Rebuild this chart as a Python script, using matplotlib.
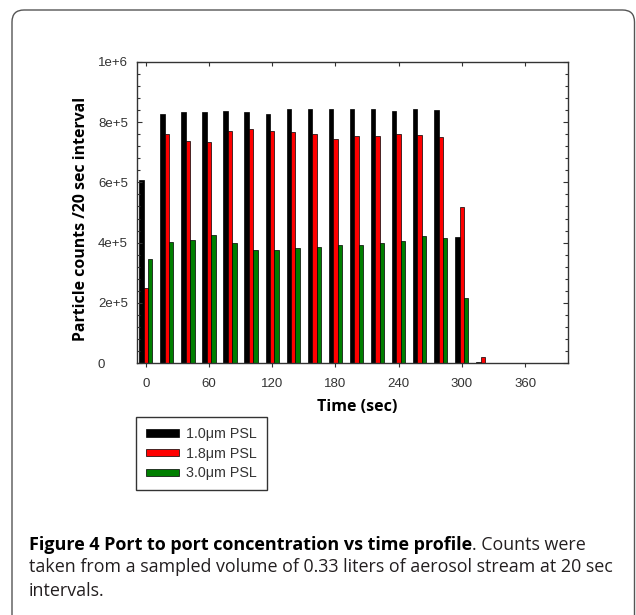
import matplotlib
matplotlib.use("Agg")
import matplotlib.pyplot as plt
import numpy as np
from matplotlib.patches import FancyBboxPatch
from matplotlib.transforms import IdentityTransform
from matplotlib.ticker import MultipleLocator

# ---------------- data ----------------
time_sec = [0, 20, 40, 60, 80, 100, 120, 140, 160, 180, 200, 220, 240, 260, 280, 300, 320]
psl_1_0 = [6.08e5, 8.26e5, 8.33e5, 8.33e5, 8.37e5, 8.33e5, 8.27e5, 8.44e5, 8.44e5,
           8.43e5, 8.44e5, 8.44e5, 8.38e5, 8.43e5, 8.40e5, 4.18e5, 3e3]
psl_1_8 = [2.50e5, 7.60e5, 7.38e5, 7.33e5, 7.72e5, 7.77e5, 7.71e5, 7.67e5, 7.62e5,
           7.44e5, 7.54e5, 7.54e5, 7.60e5, 7.56e5, 7.50e5, 5.18e5, 2.0e4]
psl_3_0 = [3.44e5, 4.01e5, 4.10e5, 4.24e5, 3.98e5, 3.74e5, 3.74e5, 3.81e5, 3.84e5,
           3.92e5, 3.93e5, 3.98e5, 4.04e5, 4.22e5, 4.16e5, 2.15e5, 0]
series_labels = ["1.0\u03bcm PSL", "1.8\u03bcm PSL", "3.0\u03bcm PSL"]
series_colors = ["#000000", "#ff0000", "#007f00"]
yticks = [0, 2e5, 4e5, 6e5, 8e5, 1e6]
ytick_labels = ["0", "2e+5", "4e+5", "6e+5", "8e+5", "1e+6"]
xticks = [0, 60, 120, 180, 240, 300, 360]

W, H = 636, 615
fig = plt.figure(figsize=(W / 100, H / 100), dpi=100)
fig.patch.set_facecolor("white")

# rounded border
border = FancyBboxPatch((12, -40), 622.5, 615 - 10 + 40, boxstyle="round,pad=0,rounding_size=12",
                        transform=IdentityTransform(), facecolor="none",
                        edgecolor="#555555", linewidth=1.0)
fig.add_artist(border)

ax_l, ax_r, ax_t, ax_b = 137, 568, 62, 363
ax = fig.add_axes([ax_l / W, 1 - ax_b / H, (ax_r - ax_l) / W, (ax_b - ax_t) / H])

bw = 4.2
t = np.array(time_sec, dtype=float)
handles = []
for vals, off, col, lab in zip([psl_1_0, psl_1_8, psl_3_0], [-bw, 0, bw], series_colors, series_labels):
    b = ax.bar(t + off, vals, width=bw, color=col, edgecolor="black", linewidth=0.5, label=lab)
    handles.append(b)

ax.set_xlim(-8.3, 400.8)
ax.set_ylim(0, 1e6)

tick_font = dict(family="Liberation Sans", size=9.5)
ax.set_xticks(xticks)
ax.set_xticklabels([str(v) for v in xticks], fontdict=tick_font, color="#333333")
ax.set_yticks(yticks)
ax.set_yticklabels(ytick_labels, fontdict=tick_font, color="#333333", ha="left")
ax.yaxis.set_minor_locator(MultipleLocator(4e4))

ax.tick_params(axis="y", which="major", direction="in", length=3.5, width=0.8,
               left=True, right=True, pad=(ax_l - 98) * 0.72, colors="#333333")
ax.tick_params(axis="y", which="minor", direction="in", length=2.3, width=0.8,
               left=True, right=True, colors="#333333")
ax.tick_params(axis="x", which="major", direction="out", length=3, width=0.8,
               bottom=True, top=False, pad=7.5, colors="#333333")
for lab in ax.get_yticklabels():
    lab.set_color("#333333")

sec = ax.secondary_xaxis("top")
sec.set_xticks(xticks)
sec.tick_params(axis="x", direction="in", length=3, width=0.8, labeltop=False, colors="#333333")
sec.spines["top"].set_visible(False)

for s in ax.spines.values():
    s.set_color("#333333")
    s.set_linewidth(1.0)

ax.set_ylabel("Particle counts /20 sec interval", family="Open Sans", weight="bold", size=11.4)
ax.yaxis.set_label_coords((89 - ax_l) / (ax_r - ax_l), 0.48)
ax.set_xlabel("Time (sec)", family="Open Sans", weight="bold", size=11.5)
ax.xaxis.set_label_coords((357 - ax_l) / (ax_r - ax_l), (ax_b - 407) / (ax_b - ax_t))
ax.xaxis.label.set_va("center")

leg = ax.legend(handles=handles, loc="upper left",
                bbox_to_anchor=(136 / W, 1 - 417 / H), bbox_transform=fig.transFigure,
                borderaxespad=0, prop=dict(family="Liberation Sans", size=10.3),
                handlelength=2.3, handleheight=0.42, handletextpad=0.5,
                labelspacing=0.4, borderpad=0.7, fancybox=False, framealpha=1)
leg.get_frame().set_edgecolor("#333333")
leg.get_frame().set_linewidth(1.0)
for txt in leg.get_texts():
    txt.set_color("#333333")

# caption
renderer = fig.canvas.get_renderer()
cap_x = 29
bold_part = "Figure 4 Port to port concentration vs time profile"
reg_part = ". Counts were"
line2 = "taken from a sampled volume of 0.33 liters of aerosol stream at 20 sec"
line3 = "intervals."
probe = fig.text(0, 0, line2, family="Open Sans", size=10)
wpx = probe.get_window_extent(renderer).width
probe.remove()
cap_size = 10 * (612.5 - cap_x) / wpx
reg_kw = dict(family="Open Sans", size=cap_size, color="#231f20", va="baseline", ha="left")
b1 = fig.text(cap_x / W, 1 - 550 / H, bold_part, family="Open Sans", weight="bold",
              size=cap_size * 1.01, color="#000000", va="baseline", ha="left")
bw_px = b1.get_window_extent(renderer).width
fig.text((cap_x + bw_px) / W, 1 - 550 / H, reg_part, **reg_kw)
fig.text(cap_x / W, 1 - 572.5 / H, line2, **reg_kw)
fig.text(cap_x / W, 1 - 596 / H, line3, **reg_kw)

fig.savefig("out.png", dpi=100)
